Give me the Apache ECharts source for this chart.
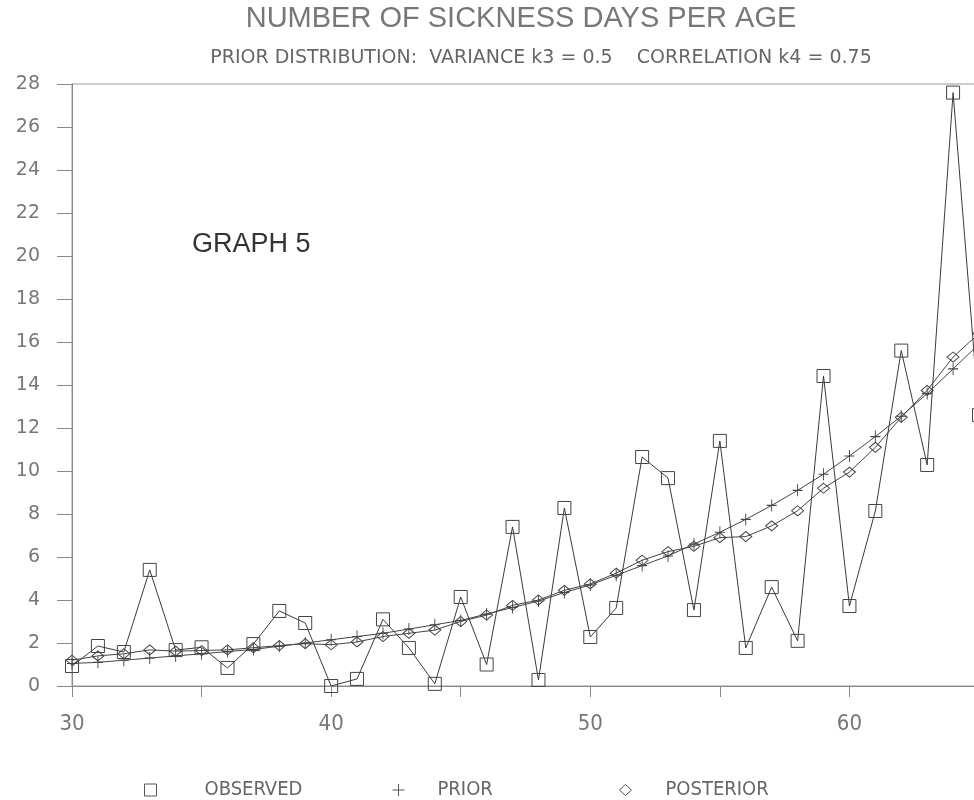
<!DOCTYPE html>
<html>
<head>
<meta charset="utf-8">
<style>
  html, body { margin: 0; padding: 0; background: #fff; }
  #chart { width: 974px; height: 800px; }
</style>
<script src="https://cdn.jsdelivr.net/npm/echarts@6/dist/echarts.min.js"></script>
</head>
<body>
<div id="chart"></div>
<script>
// Ages on the horizontal axis
var ages = [30, 31, 32, 33, 34, 35, 36, 37, 38, 39, 40, 41, 42, 43, 44, 45, 46, 47,
            48, 49, 50, 51, 52, 53, 54, 55, 56, 57, 58, 59, 60, 61, 62, 63, 64, 65];

// Observed number of sickness days per age
var observed = [0.93, 1.86, 1.58, 5.4, 1.67, 1.8, 0.84, 1.95, 3.49, 2.93, 0.0, 0.33,
                3.1, 1.77, 0.1, 4.14, 1.0, 7.4, 0.28, 8.28, 2.28, 3.63, 10.65, 9.67,
                3.53, 11.4, 1.77, 4.6, 2.1, 14.42, 3.72, 8.14, 15.6, 10.28, 27.6, 12.6];

// Prior estimate
var prior = [1.05, 1.1, 1.2, 1.3, 1.4, 1.5, 1.6, 1.7, 1.85, 2.0, 2.15, 2.3,
             2.45, 2.65, 2.85, 3.05, 3.35, 3.65, 3.95, 4.35, 4.7, 5.15, 5.6, 6.05,
             6.6, 7.15, 7.75, 8.4, 9.1, 9.85, 10.7, 11.6, 12.55, 13.6, 14.75, 15.9];

// Posterior estimate
var posterior = [1.2, 1.4, 1.5, 1.68, 1.62, 1.65, 1.68, 1.78, 1.88, 1.97, 1.92, 2.05,
                 2.3, 2.45, 2.6, 3.0, 3.3, 3.75, 4.0, 4.45, 4.75, 5.25, 5.85, 6.25,
                 6.5, 6.9, 6.95, 7.45, 8.15, 9.2, 9.95, 11.1, 12.5, 13.75, 15.3, 16.4];

// Labelled ticks on the age axis
var xTickLabels = [30, 40, 50, 60];

var titleText = 'NUMBER OF SICKNESS DAYS PER AGE';
var subtitleText = 'PRIOR DISTRIBUTION:  VARIANCE k3 = 0.5    CORRELATION k4 = 0.75';
var graphLabel = 'GRAPH 5';
var seriesNames = ['OBSERVED', 'PRIOR', 'POSTERIOR'];

function pairs(values) {
  return ages.map(function (a, i) { return [a, values[i]]; });
}

var ink = '#444';
var plusPath = 'path://M0,6L12,6M6,0L6,12';
var narrow = '"Liberation Sans Narrow", "DejaVu Sans Condensed", sans-serif';
var wide = '"Liberation Sans", Arial, sans-serif';

var hollow = { color: 'transparent', borderColor: ink, borderWidth: 1 };

function legendAt(left, name, icon, pad, w, h) {
  return {
    data: [name],
    left: left,
    top: 780,
    padding: 0,
    icon: icon,
    itemWidth: w,
    itemHeight: h,
    itemStyle: { color: 'transparent', borderColor: '#555', borderWidth: 1 },
    textStyle: { fontFamily: narrow, fontSize: 20, color: '#666', padding: [0, 0, 0, pad] },
    selectedMode: false
  };
}

var chart = echarts.init(document.getElementById('chart'));
chart.setOption({
  animation: false,
  backgroundColor: '#fff',
  // plot area runs a little past the right edge of the canvas
  grid: {
    left: 72, top: 84, width: 907, height: 602,
    outerBoundsMode: 'none',
    show: true, borderColor: '#999', borderWidth: 1
  },
  graphic: [
    { type: 'text', x: 521, y: 19,
      style: { text: titleText, fontFamily: wide, fontSize: 29, fill: '#777',
               align: 'center', verticalAlign: 'middle' } },
    { type: 'text', x: 541, y: 58,
      style: { text: subtitleText, fontFamily: '"DejaVu Sans", sans-serif', fontSize: 19, fill: '#666',
               align: 'center', verticalAlign: 'middle' } },
    { type: 'text', x: 192, y: 245,
      style: { text: graphLabel, fontFamily: wide, fontSize: 27, fill: '#333',
               align: 'left', verticalAlign: 'middle' } }
  ],
  legend: [
    legendAt(144, seriesNames[0], 'rect', 43, 12, 12),
    legendAt(392, seriesNames[1], plusPath, 28, 12, 12),
    legendAt(619, seriesNames[2], 'diamond', 29, 12, 11)
  ],
  xAxis: {
    type: 'value',
    min: 30, max: 65, interval: 5,
    axisLine: { lineStyle: { color: '#888', width: 1 } },
    axisTick: { show: true, inside: false, length: 11, lineStyle: { color: '#888' } },
    splitLine: { show: false },
    axisLabel: {
      margin: 27,
      fontFamily: narrow, fontSize: 22, color: '#777',
      formatter: function (v) { return xTickLabels.indexOf(v) >= 0 ? String(v) : ''; }
    }
  },
  yAxis: {
    type: 'value',
    min: 0, max: 28, interval: 2,
    axisLine: { show: true, lineStyle: { color: '#888', width: 1 } },
    axisTick: { show: true, inside: false, length: 15, lineStyle: { color: '#888' } },
    splitLine: { show: false },
    axisLabel: { margin: 32, fontFamily: '"DejaVu Sans", sans-serif', fontSize: 19, color: '#777' }
  },
  series: [
    {
      name: seriesNames[1], type: 'line', data: pairs(prior),
      symbol: plusPath, symbolSize: [10, 12], showAllSymbol: true,
      itemStyle: hollow, lineStyle: { color: ink, width: 1 }, z: 2
    },
    {
      name: seriesNames[2], type: 'line', data: pairs(posterior),
      symbol: 'diamond', symbolSize: [12, 10], showAllSymbol: true,
      itemStyle: hollow, lineStyle: { color: ink, width: 1 }, z: 3
    },
    {
      name: seriesNames[0], type: 'line', data: pairs(observed),
      symbol: 'rect', symbolSize: 13, showAllSymbol: true,
      itemStyle: hollow, lineStyle: { color: '#3a3a3a', width: 1 }, z: 4
    }
  ]
});
</script>
</body>
</html>
